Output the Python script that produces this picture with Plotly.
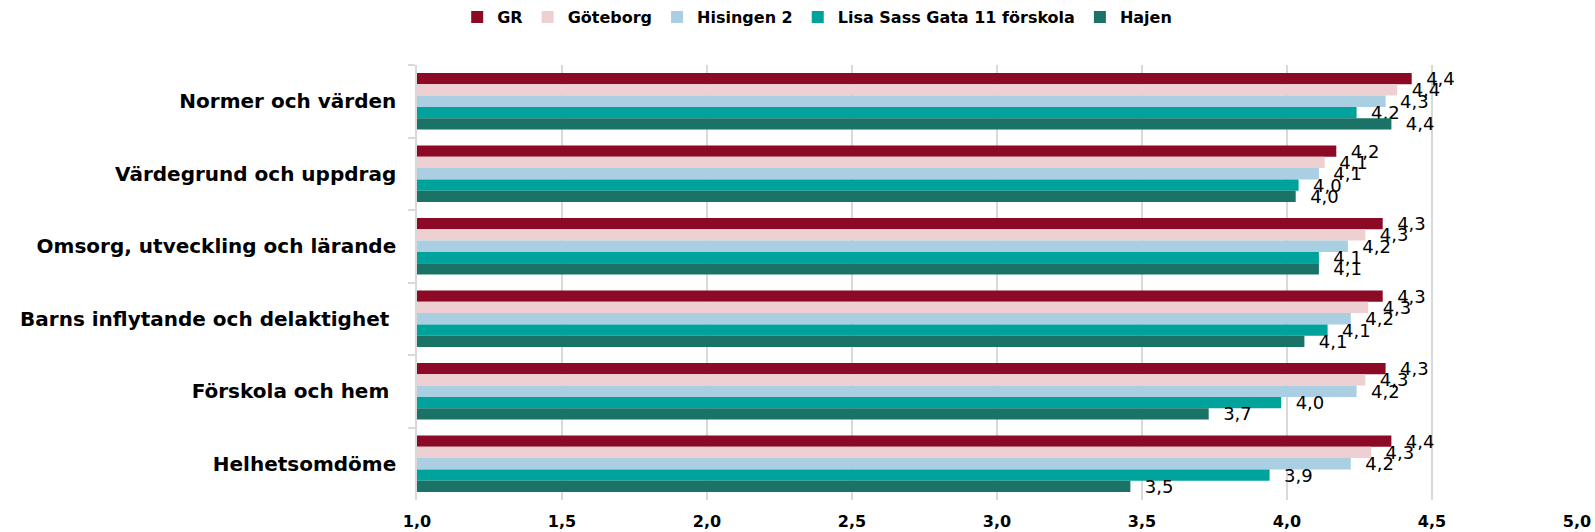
import plotly.graph_objects as go

categories = [
    "Normer och värden",
    "Värdegrund och uppdrag",
    "Omsorg, utveckling och lärande",
    "Barns inflytande och delaktighet\u00a0",
    "Förskola och hem\u00a0",
    "Helhetsomdöme",
]

series_names = ["GR", "Göteborg", "Hisingen 2", "Lisa Sass Gata 11 förskola", "Hajen"]

gr = [4.43, 4.17, 4.33, 4.33, 4.34, 4.36]
goteborg = [4.38, 4.13, 4.27, 4.28, 4.27, 4.29]
hisingen = [4.34, 4.11, 4.21, 4.22, 4.24, 4.22]
lisa = [4.24, 4.04, 4.11, 4.14, 3.98, 3.94]
hajen = [4.36, 4.03, 4.11, 4.06, 3.73, 3.46]

series_values = [gr, goteborg, hisingen, lisa, hajen]
colors = ["#8C0A25", "#EED0D2", "#AACFE2", "#00A39B", "#1A7366"]

tick_vals = [1.0, 1.5, 2.0, 2.5, 3.0, 3.5, 4.0, 4.5, 5.0]

FONT = "DejaVu Sans"

fig = go.Figure()
for name, vals, col in zip(series_names, series_values, colors):
    fig.add_trace(go.Bar(
        y=categories,
        x=vals,
        name=name,
        orientation="h",
        marker=dict(color=col, line=dict(width=0)),
        texttemplate="\u00a0\u00a0%{x:.1f}",
        textposition="outside",
        constraintext="none",
        cliponaxis=False,
        textfont=dict(family=FONT, size=18, color="#000000"),
        hoverinfo="skip",
    ))

fig.update_layout(
    width=1595,
    height=532,
    margin=dict(l=417, r=18, t=65, b=32, autoexpand=False),
    barmode="group",
    bargap=0.22,
    bargroupgap=0,
    separators=", ",
    plot_bgcolor="white",
    paper_bgcolor="white",
    font=dict(family=FONT, color="#000000"),
    legend=dict(
        orientation="h",
        x=0.345,
        xanchor="center",
        y=1.11,
        yanchor="middle",
        font=dict(family=FONT, size=16, color="#000000", weight="bold"),
        itemwidth=30,
        traceorder="normal",
    ),
    xaxis=dict(
        range=[1, 5],
        tickvals=tick_vals,
        tickformat=".1f",
        showgrid=True,
        gridcolor="#D9D9D9",
        gridwidth=1.5,
        zeroline=False,
        showline=False,
        ticks="",
        tickfont=dict(family=FONT, size=16, color="#000000", weight="bold"),
        ticklabelstandoff=10,
    ),
    yaxis=dict(
        autorange="reversed",
        showgrid=False,
        showline=True,
        linecolor="#D9D9D9",
        linewidth=1.5,
        ticks="outside",
        tickson="boundaries",
        ticklen=7,
        tickcolor="#D9D9D9",
        tickwidth=1.5,
        tickfont=dict(family=FONT, size=20, color="#000000", weight="bold"),
        ticklabelstandoff=15,
    ),
)

fig.write_html(
    "out.html",
    config={"displayModeBar": False},
    post_script="document.body.style.margin='0';document.body.style.overflow='hidden';",
)
